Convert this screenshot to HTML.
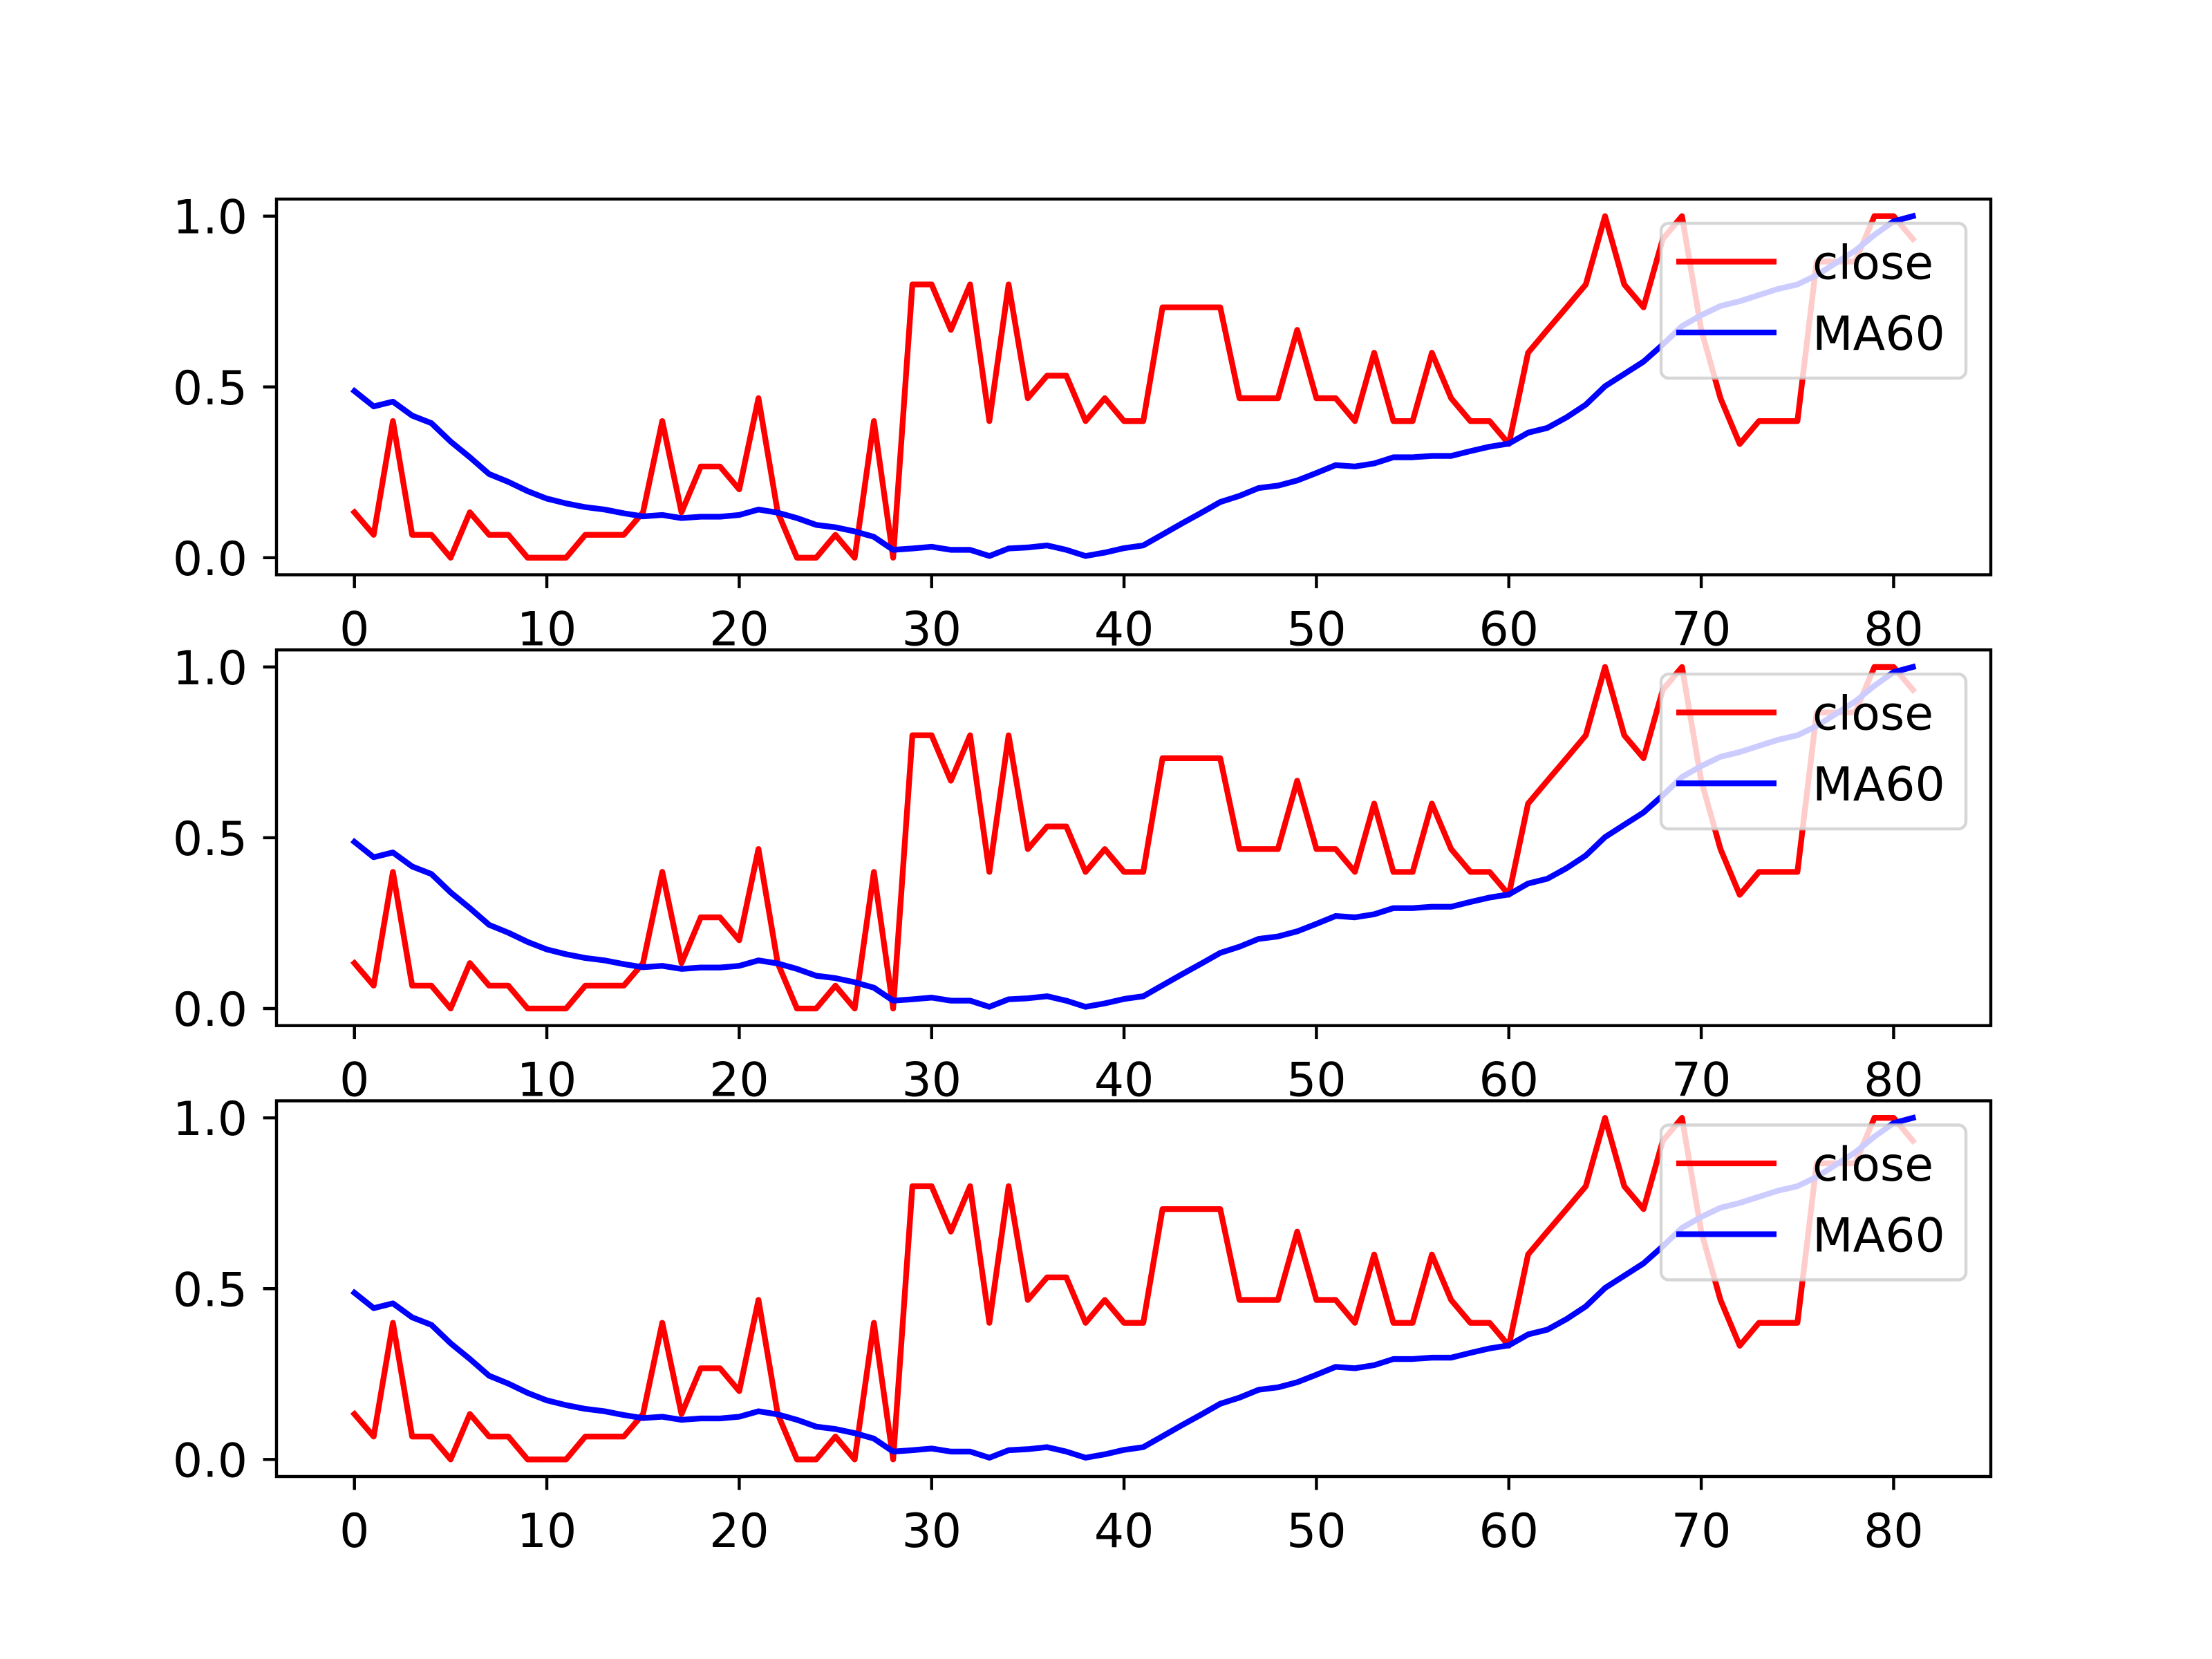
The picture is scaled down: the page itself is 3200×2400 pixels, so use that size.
<!DOCTYPE html>
<html><head><meta charset="utf-8"><style>
html,body{margin:0;padding:0;background:#fff}
svg{display:block}
text{font-family:"DejaVu Sans","Liberation Sans",sans-serif;font-size:68px;fill:#000}
</style></head>
<body>
<svg id="fig" width="3200" height="2400" viewBox="0 0 3200 2400" xmlns="http://www.w3.org/2000/svg">
<rect width="3200" height="2400" fill="#fff"/>
</svg>
<script>
const closeValues = [0.133,0.067,0.4,0.067,0.067,0,0.133,0.067,0.067,0,0,0,0.067,0.067,0.067,0.133,0.4,0.133,0.267,0.267,0.2,0.467,0.133,0,0,0.067,0,0.4,0,0.8,0.8,0.667,0.8,0.4,0.8,0.467,0.533,0.533,0.4,0.467,0.4,0.4,0.733,0.733,0.733,0.733,0.467,0.467,0.467,0.667,0.467,0.467,0.4,0.6,0.4,0.4,0.6,0.467,0.4,0.4,0.333,0.6,0.667,0.733,0.8,1.0,0.8,0.733,0.933,1.0,0.667,0.467,0.333,0.4,0.4,0.4,0.867,0.867,0.867,1.0,1.0,0.933];
const ma60Values = [0.488,0.443,0.457,0.416,0.394,0.34,0.294,0.245,0.222,0.195,0.173,0.159,0.148,0.141,0.13,0.121,0.125,0.116,0.12,0.12,0.125,0.141,0.132,0.116,0.096,0.089,0.077,0.061,0.023,0.027,0.032,0.023,0.023,0.005,0.027,0.03,0.036,0.023,0.005,0.015,0.028,0.036,0.068,0.1,0.131,0.163,0.181,0.204,0.211,0.226,0.248,0.271,0.267,0.276,0.294,0.294,0.298,0.298,0.312,0.325,0.334,0.366,0.38,0.411,0.448,0.502,0.538,0.574,0.624,0.678,0.71,0.737,0.751,0.769,0.787,0.8,0.827,0.863,0.899,0.945,0.985,1.0];
const xTicks = [0,10,20,30,40,50,60,70,80];
const yTicks = [0.0,0.5,1.0];
const yTickLabels = ["0.0","0.5","1.0"];
const seriesNames = ["close","MA60"];

const NS = "http://www.w3.org/2000/svg";
const svg = document.getElementById('fig');
function mk(tag, attrs, parent){const e=document.createElementNS(NS,tag);for(const k in attrs)e.setAttribute(k,attrs[k]);(parent||svg).appendChild(e);return e;}

const L=400,R=2880,H=543.5,tops=[288,940.2,1592.5];
const xmin=-4.05,xmax=85.05,ymin=-0.05,ymax=1.05;
tops.forEach((T,pi)=>{
  const B=T+H;
  const sx=v=>L+(v-xmin)/(xmax-xmin)*(R-L);
  const sy=v=>B-(v-ymin)/(ymax-ymin)*H;
  const g=mk('g',{});
  
  
  const clipId='clip'+pi;
  const cp=mk('clipPath',{id:clipId},g);mk('rect',{x:L,y:T,width:R-L,height:H},cp);
  const mkLine=(vals,color,name)=>{
    const d=vals.map((v,i)=>(i?'L':'M')+sx(i).toFixed(2)+' '+sy(v).toFixed(2)).join(' ');
    const p=mk('path',{d:d,fill:'none',stroke:color,'stroke-width':8.33,'stroke-linejoin':'round','stroke-linecap':'square','clip-path':'url(#'+clipId+')'},g);
    
    
  };
  mkLine(closeValues,'#ff0000','close-line');
  mkLine(ma60Values,'#0000ff','ma60-line');
  const frame=mk('rect',{x:L,y:T,width:R-L,height:H,fill:'none',stroke:'#000','stroke-width':4.44},g);
  
  
  xTicks.forEach(t=>{
    const x=sx(t);
    mk('line',{x1:x,x2:x,y1:B,y2:B+19.4,stroke:'#000','stroke-width':4.44},g);
    const tx=mk('text',{x:x,y:B+102,'text-anchor':'middle'},g);
    tx.textContent=String(t);
    
    
  });
  yTicks.forEach((t,i)=>{
    const y=sy(t);
    mk('line',{x1:L,x2:L-19.4,y1:y,y2:y,stroke:'#000','stroke-width':4.44},g);
    const tx=mk('text',{x:L-42,y:y+25,'text-anchor':'end'},g);
    tx.textContent=yTickLabels[i];
    
    
  });
  const lg=mk('g',{},g);
  
  
  const oy=T-288;
  mk('rect',{x:2403,y:323+oy,width:441,height:224,rx:11,ry:11,fill:'#fff','fill-opacity':0.8,stroke:'#cccccc','stroke-opacity':0.8,'stroke-width':4.44},lg);
  const cols=['#ff0000','#0000ff'];
  const ys=[378.5,481];
  seriesNames.forEach((n,i)=>{
    const y=ys[i]+oy;
    const h=mk('line',{x1:2425,x2:2570,y1:y,y2:y,stroke:cols[i],'stroke-width':8.33},lg);
    
    
    const tx=mk('text',{x:2622,y:y+25},lg);
    tx.textContent=n;
    
    
  });
});
</script>
</body></html>
